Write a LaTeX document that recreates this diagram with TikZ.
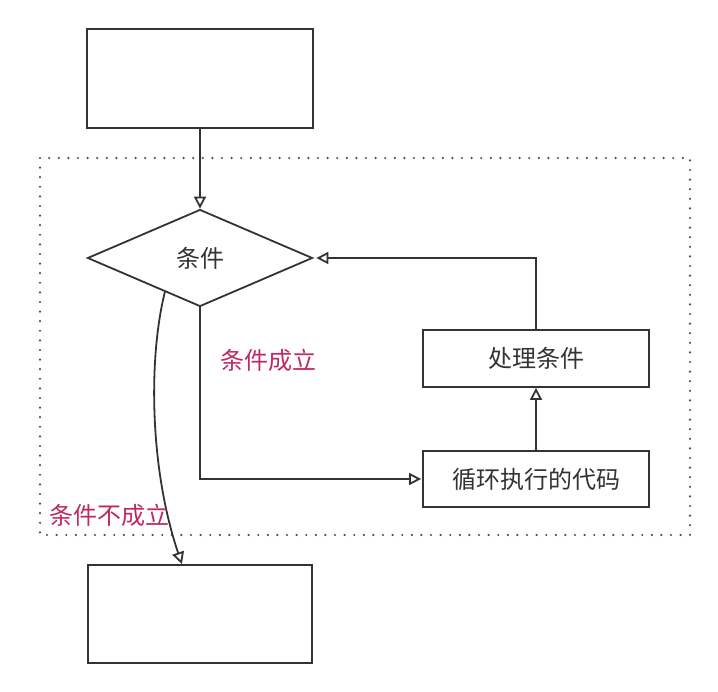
\documentclass[tikz,border=0pt]{standalone}
\usepackage{fontspec}
\setmainfont{Noto Sans CJK SC}
\usetikzlibrary{arrows.meta,calc,shapes.geometric}
\definecolor{lbl}{RGB}{192,40,100}
\tikzset{>={Triangle[open,length=12pt,width=12pt]},every node/.style={font=\fontsize{24}{28}\selectfont,text=black!80},
blk/.style={draw,line width=1.8pt,draw=black!80,minimum width=226pt},flow/.style={line width=1.8pt,draw=black!80,->},cond/.style={font=\fontsize{24}{28}\selectfont,text=lbl}}

\begin{document}
\begin{tikzpicture}[x=1pt,y=-1pt]
\useasboundingbox (0,0) rectangle (718,692);
\draw[line width=2.4pt,line cap=round,dash pattern=on 0pt off 9.6pt,black!70] (40,158) rectangle (690,535);
\node[blk,minimum height=99pt] (start) at (200,78.5) {};
\node[blk,diamond,minimum width=225pt,minimum height=97pt,inner sep=0pt] (test) at (200,258) {条件};
\node[blk,minimum height=57pt] (proc) at (536,358.5) {处理条件};
\node[blk,minimum height=56pt] (body) at (536,479) {循环执行的代码};
\node[blk,minimum width=224pt,minimum height=98pt] (stop) at (200,614) {};
\draw[flow] (start)--(test);
\draw[flow] (body)--(proc);
\draw[flow,shorten >=3pt] (proc.north)|-(test.east);
\draw[flow,shorten >=1pt] (test.south)|-(body.west);
\coordinate (A) at ($(test.south)!.31!(test.west)$);\coordinate (B) at ($(stop.north west)!.42!(stop.north east)$);
\draw[flow] (A) .. controls (148,360) and (150,470) .. (B);
\node[cond] (yes) at (268,360) {条件成立};
\node[cond] (no) at (109,515) {条件不成立};
\end{tikzpicture}
\end{document}
